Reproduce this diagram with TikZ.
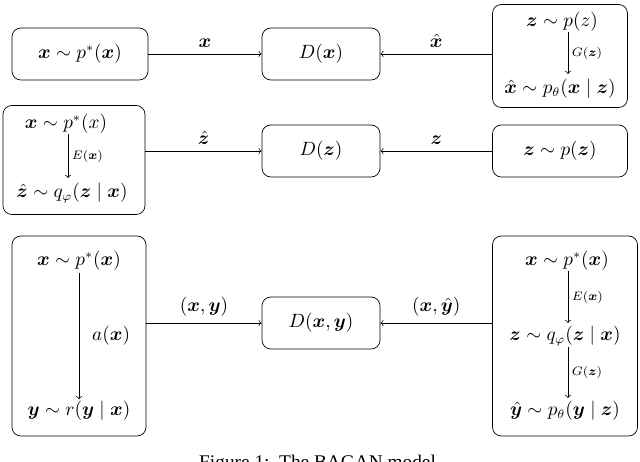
\documentclass[tikz,border=0pt]{standalone}
\usepackage{amsmath,bm}
\usepackage{fontspec}
\newfontfamily\capfont{Liberation Serif}
\begin{document}
\begin{tikzpicture}[x=0.02cm,y=-0.02cm,font=\fontsize{10.7}{13}\selectfont,
  box/.style={draw,rounded corners=5pt,inner sep=0pt},
  txt/.style={inner sep=1pt},
  lab/.style={inner sep=1pt,font=\scriptsize,anchor=west},
  conn/.style={->,>=to},
  inarr/.style={->,>=to}]
\useasboundingbox (0,0) rectangle (640,462);
% row 1
\node[box,minimum width=136*0.02cm,minimum height=52*0.02cm] (b1l) at (80,54) {$\bm{x}\sim p^*(\bm{x})$};
\node[box,minimum width=118*0.02cm,minimum height=52*0.02cm] (d1) at (321,54) {$D(\bm{x})$};
\node[box,minimum width=135*0.02cm,minimum height=103*0.02cm] (b1r) at (560,56) {};
\node[txt] (r1a) at (562,22) {$\bm{z}\sim p(z)$};
\node[txt] (r1b) at (560,89) {$\hat{\bm{x}}\sim p_\theta(\bm{x}\mid\bm{z})$};
\draw[inarr] (568,32) -- node[lab,right,xshift=1pt] {$G(\bm{z})$} (568,74);
\draw[conn] (b1l) -- node[above] {$\bm{x}$} (d1);
\draw[conn] (b1r.west|-d1) -- node[above] {$\hat{\bm{x}}$} (d1);
% row 2
\node[box,minimum width=142*0.02cm,minimum height=109*0.02cm] (b2l) at (74,160) {};
\node[txt] (l2a) at (66,124) {$\bm{x}\sim p^*(x)$};
\node[txt] (l2b) at (72,193) {$\hat{\bm{z}}\sim q_\varphi(\bm{z}\mid\bm{x})$};
\draw[inarr] (68,134) -- node[lab,right,xshift=1pt] {$E(\bm{x})$} (68,178);
\node[box,minimum width=118*0.02cm,minimum height=52*0.02cm] (d2) at (321,151) {$D(\bm{z})$};
\node[box,minimum width=135*0.02cm,minimum height=52*0.02cm] (b2r) at (560,151) {$\bm{z}\sim p(\bm{z})$};
\draw[conn] (b2l.east|-d2) -- node[above] {$\hat{\bm{z}}$} (d2);
\draw[conn] (b2r) -- node[above] {$\bm{z}$} (d2);
% row 3
\node[box,minimum width=134*0.02cm,minimum height=200*0.02cm] (b3l) at (79,336) {};
\node[txt] (l3a) at (79,261) {$\bm{x}\sim p^*(\bm{x})$};
\node[txt] (l3b) at (79,411) {$\bm{y}\sim r(\bm{y}\mid\bm{x})$};
\draw[inarr] (l3a.south) -- node[right,xshift=4pt] {$a(\bm{x})$} (l3b.north);
\node[box,minimum width=118*0.02cm,minimum height=52*0.02cm] (d3) at (321,323) {$D(\bm{x},\bm{y})$};
\node[box,minimum width=145*0.02cm,minimum height=200*0.02cm] (b3r) at (565,336) {};
\node[txt] (r3a) at (567,261) {$\bm{x}\sim p^*(\bm{x})$};
\node[txt] (r3b) at (565,336) {$\bm{z}\sim q_\varphi(\bm{z}\mid\bm{x})$};
\node[txt] (r3c) at (565,411) {$\hat{\bm{y}}\sim p_\theta(\bm{y}\mid\bm{z})$};
\draw[inarr] (568,271) -- node[lab,right,xshift=1pt] {$E(\bm{x})$} (568,323);
\draw[inarr] (568,347) -- node[lab,right,xshift=1pt] {$G(\bm{z})$} (568,398);
\draw[conn] (b3l.east|-d3) -- node[above] {$(\bm{x},\bm{y})$} (d3);
\draw[conn] (b3r.west|-d3) -- node[above] {$(\bm{x},\hat{\bm{y}})$} (d3);
\node[inner sep=0pt,anchor=north,font=\capfont\fontsize{11}{13}\selectfont] (cap) at (320,455) {Figure 1:\ \ The BAGAN model.};
\end{tikzpicture}
\end{document}
